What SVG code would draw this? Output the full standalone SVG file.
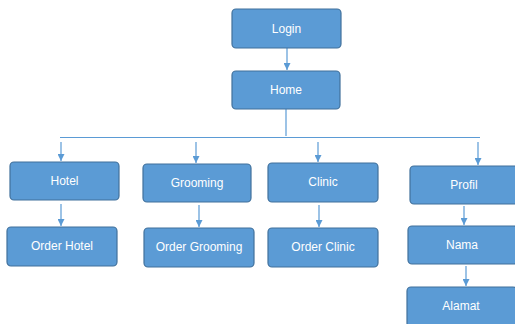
<svg xmlns="http://www.w3.org/2000/svg" width="515" height="324" viewBox="0 0 515 324">
<defs>
<style>
.box{fill:#5B9BD5;stroke:#41719C;stroke-width:1.2}
.t{font-family:"Liberation Sans",Arial,sans-serif;font-size:12px;fill:#ffffff;text-anchor:middle}
.c{stroke:#5B9BD5;stroke-width:1.2;fill:none}
</style>
<marker id="ah" viewBox="0 0 10 10" refX="10" refY="5" markerWidth="7" markerHeight="7" markerUnits="userSpaceOnUse" orient="auto">
<path d="M0,0 L10,5 L0,10 z" fill="#5B9BD5"/>
</marker>
</defs>
<rect width="515" height="324" fill="#ffffff"/>
<g id="connectors">
<path class="c" d="M287,48 V70" marker-end="url(#ah)"/>
<path class="c" d="M286,109 V136"/>
<path class="c" d="M60,137.5 H480"/>
<path class="c" d="M61,142 V161" marker-end="url(#ah)"/>
<path class="c" d="M196,142 V163" marker-end="url(#ah)"/>
<path class="c" d="M318,142 V162" marker-end="url(#ah)"/>
<path class="c" d="M478,142 V165" marker-end="url(#ah)"/>
<path class="c" d="M61,204 V226" marker-end="url(#ah)"/>
<path class="c" d="M199,205 V227" marker-end="url(#ah)"/>
<path class="c" d="M319,205 V227" marker-end="url(#ah)"/>
<path class="c" d="M464,206 V225" marker-end="url(#ah)"/>
<path class="c" d="M466,266 V286" marker-end="url(#ah)"/>
</g>
<g id="login"><rect class="box" x="232" y="9" width="109" height="39" rx="4"/><text class="t" x="286.5" y="32.5">Login</text></g>
<g id="home"><rect class="box" x="232" y="71" width="108" height="38" rx="4"/><text class="t" x="286" y="94">Home</text></g>
<g id="hotel"><rect class="box" x="10" y="162" width="109" height="38" rx="4"/><text class="t" x="64.5" y="185">Hotel</text></g>
<g id="grooming"><rect class="box" x="143" y="164" width="108" height="38" rx="4"/><text class="t" x="197" y="187">Grooming</text></g>
<g id="clinic"><rect class="box" x="268" y="163" width="110" height="39" rx="4"/><text class="t" x="323" y="186">Clinic</text></g>
<g id="profil"><rect class="box" x="410" y="166" width="110" height="38" rx="4"/><text class="t" x="464" y="189">Profil</text></g>
<g id="order-hotel"><rect class="box" x="7" y="227" width="110" height="39" rx="4"/><text class="t" x="62" y="250">Order Hotel</text></g>
<g id="order-grooming"><rect class="box" x="144" y="228" width="110" height="39" rx="4"/><text class="t" x="199" y="251">Order Grooming</text></g>
<g id="order-clinic"><rect class="box" x="268" y="228" width="110" height="39" rx="4"/><text class="t" x="323" y="251">Order Clinic</text></g>
<g id="nama"><rect class="box" x="408" y="226" width="110" height="38" rx="4"/><text class="t" x="462" y="249">Nama</text></g>
<g id="alamat"><rect class="box" x="407" y="287" width="110" height="40" rx="4"/><text class="t" x="461" y="310">Alamat</text></g>
</svg>
